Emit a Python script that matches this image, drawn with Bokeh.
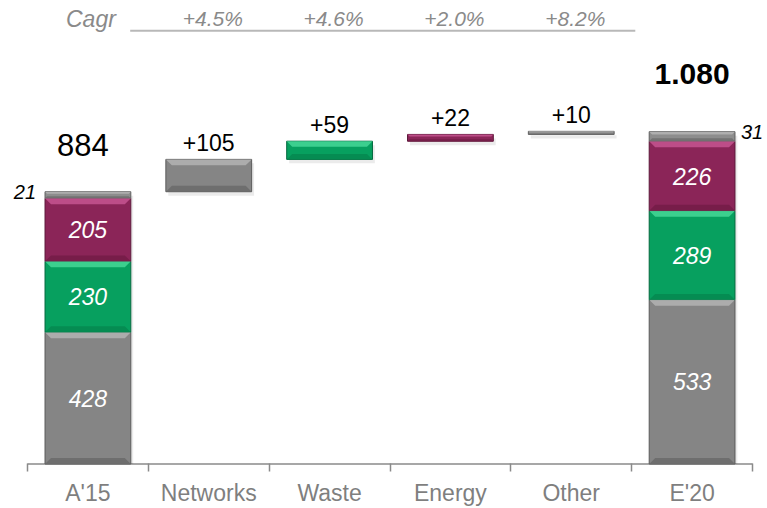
from bokeh.plotting import figure
from bokeh.models import Range1d, FixedTicker, ColumnDataSource
from bokeh.core.properties import value
from bokeh.embed import file_html
from bokeh.resources import INLINE

# ---------------- data ----------------
categories = ["A'15", "Networks", "Waste", "Energy", "Other", "E'20"]
segments = ["Networks", "Waste", "Energy", "Other"]
a15_values = [428, 230, 205, 21]
e20_values = [533, 289, 226, 31]
increments = [105, 59, 22, 10]
increment_labels = ["+105", "+59", "+22", "+10"]
cagr_labels = ["+4.5%", "+4.6%", "+2.0%", "+8.2%"]
total_labels = ["884", "1.080"]

# ---------------- style ----------------
FONT = value("Liberation Sans")
fill = ["#858585", "#07a05f", "#8b2558", "#8d8d8d"]
edge = ["#5a5a5a", "#04683e", "#5c1839", "#5f5f5f"]
light = ["#b3b3b3", "#45d797", "#c65590", "#b5b5b5"]
dark = ["#6c6c6c", "#058a51", "#741d48", "#707070"]
W = 0.71
PX_PER_UNIT = 0.31
PX_PER_CAT = 725.0 / 6.0
Y_START = -1.5 / PX_PER_UNIT
Y_END = Y_START + 468.0 / PX_PER_UNIT
X_START = -0.5 - 27.0 / PX_PER_CAT
X_END = 5.5 + 15.0 / PX_PER_CAT

p = figure(width=767, height=508, output_backend="svg", toolbar_location=None,
           x_range=Range1d(X_START, X_END), y_range=Range1d(Y_START, Y_END),
           min_border_left=0, min_border_right=0, min_border_top=0,
           min_border_bottom=40)
p.outline_line_color = None
p.grid.visible = False
p.yaxis.visible = False
p.background_fill_color = "white"
p.border_fill_color = "white"

# build segments
rows = dict(left=[], right=[], bottom=[], top=[], fill=[], edge=[], x=[])
def add(x, b, t, i):
    rows["left"].append(x - W / 2); rows["right"].append(x + W / 2)
    rows["bottom"].append(b); rows["top"].append(t)
    rows["fill"].append(fill[i]); rows["edge"].append(edge[i]); rows["x"].append(x)

inner = dict(x=[], y=[], text=[])
run = 0
for i, v in enumerate(a15_values):
    add(0, run, run + v, i)
    if i < 3:
        inner["x"].append(0); inner["y"].append(run + v / 2); inner["text"].append(str(v))
    run += v
a15_total = run
for k, v in enumerate(increments):
    add(k + 1, run, run + v, k)
    run += v
inc_tops = [a15_total + sum(increments[:k + 1]) for k in range(len(increments))]
run = 0
for i, v in enumerate(e20_values):
    add(5, run, run + v, i)
    if i < 3:
        inner["x"].append(5); inner["y"].append(run + v / 2); inner["text"].append(str(v))
    run += v
e20_total = run

# axis base line
p.line(x=[-0.5, 5.5], y=[0, 0], line_color="#8a8a8a", line_width=1.5)

# shadow
p.quad(left=[l + 0.02 for l in rows["left"]], right=[r + 0.02 for r in rows["right"]],
       bottom=[max(b - 4 / PX_PER_UNIT, 0) for b in rows["bottom"]],
       top=[t - 4 / PX_PER_UNIT for t in rows["top"]],
       fill_color="#000000", fill_alpha=0.08, line_color=None)

p.quad(left="left", right="right", bottom="bottom", top="top", fill_color="fill",
       line_color="edge", line_width=1, source=ColumnDataSource(rows))

# bevel highlights
hx, hy, hc, sx, sy, sc = [], [], [], [], [], []
for l, r, b, t, f in zip(rows["left"], rows["right"], rows["bottom"], rows["top"], rows["fill"]):
    i = fill.index(f)
    h_px = (t - b) * PX_PER_UNIT
    bp = min(6.0, h_px * 0.3)
    bd = bp / PX_PER_UNIT
    dx = bp / PX_PER_CAT
    hx.append([l, r, r - dx, l + dx]); hy.append([t, t, t - bd, t - bd]); hc.append(light[i])
    sx.append([l, r, r - dx, l + dx]); sy.append([b, b, b + bd, b + bd]); sc.append(dark[i])
p.patches(xs=hx, ys=hy, fill_color=hc, line_color=None, fill_alpha=0.85)
p.patches(xs=sx, ys=sy, fill_color=sc, line_color=None, fill_alpha=0.9)

# inner labels
p.text(x="x", y="y", text="text", source=ColumnDataSource(inner), text_font=FONT,
       text_font_style="italic", text_font_size="23px", text_color="white",
       text_align="center", text_baseline="middle")

# increment labels
p.text(x=[1, 2, 3, 4], y=inc_tops, text=increment_labels, text_font=FONT,
       text_font_size="23px", text_color="black", text_align="center",
       text_baseline="middle", y_offset=-17)

# totals
p.text(x=[0], y=[a15_total], text=[total_labels[0]], text_font=FONT,
       text_font_size="31px", text_color="black", text_align="center",
       text_baseline="middle", y_offset=-47, x_offset=-5)
p.text(x=[5], y=[e20_total], text=[total_labels[1]], text_font=FONT,
       text_font_size="30px", text_font_style="bold", text_color="black",
       text_align="center", text_baseline="middle", y_offset=-58)

# small top-segment labels
p.text(x=[0 - W / 2], y=[a15_total - a15_values[3] / 2], text=[str(a15_values[3])],
       text_font=FONT, text_font_style="italic", text_font_size="20px",
       text_color="black", text_align="right", text_baseline="middle",
       x_offset=-9, y_offset=-3)
p.text(x=[5 + W / 2], y=[e20_total - e20_values[3] / 2], text=[str(e20_values[3])],
       text_font=FONT, text_font_style="italic", text_font_size="20px",
       text_color="black", text_align="left", text_baseline="middle",
       x_offset=6, y_offset=-4)

# CAGR row
cagr_y = (468 - 20) / PX_PER_UNIT
line_y = (468 - 32) / PX_PER_UNIT
p.text(x=[0], y=[cagr_y], text=["Cagr"], text_font=FONT, text_font_style="italic",
       text_font_size="23px", text_color="#8a8a8a", text_align="center",
       text_baseline="middle", x_offset=3)
p.text(x=[1, 2, 3, 4], y=[cagr_y] * 4, text=cagr_labels, text_font=FONT,
       text_font_style="italic", text_font_size="21px", text_color="#8a8a8a",
       text_align="center", text_baseline="middle", x_offset=4)
p.line(x=[0.5 - 0.15, 4.5 + 0.03], y=[line_y, line_y], line_color="#b8b8b8", line_width=2)

# x axis (line drawn above; ticks & labels here)
ax = p.xaxis[0]
ax.ticker = FixedTicker(ticks=list(range(len(categories))),
                        minor_ticks=[i - 0.5 for i in range(len(categories) + 1)])
ax.major_label_overrides = {i: c for i, c in enumerate(categories)}
ax.major_tick_out = 0
ax.major_tick_in = 0
ax.minor_tick_out = 6
ax.minor_tick_in = 2
ax.axis_line_color = None
ax.minor_tick_line_color = "#8a8a8a"
ax.minor_tick_line_width = 1.5
ax.major_label_text_font = "Liberation Sans"
ax.major_label_text_font_size = "23px"
ax.major_label_text_color = "#7f7f7f"
ax.major_label_standoff = 8

open("out.html", "w").write(file_html(p, INLINE))
